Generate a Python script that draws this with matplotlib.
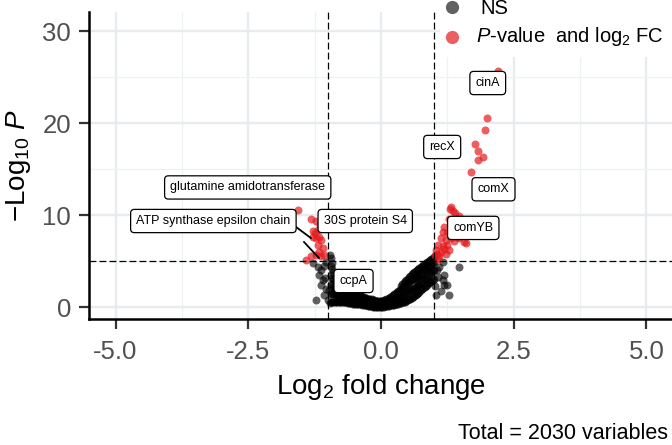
import matplotlib
matplotlib.use("Agg")
from matplotlib import pyplot as plt
from matplotlib.lines import Line2D
from matplotlib.patches import Rectangle
from matplotlib.ticker import MultipleLocator

plt.rcParams['font.family'] = ['Liberation Sans', 'DejaVu Sans']
plt.rcParams['mathtext.fontset'] = 'custom'
plt.rcParams['mathtext.rm'] = 'Liberation Sans'
plt.rcParams['mathtext.it'] = 'Liberation Sans:italic'
plt.rcParams['axes.unicode_minus'] = False

# significant genes (P-value and log2 FC)
sig_x = [2.21, 1.99, 1.95, 1.77, 1.82, 1.92, 1.82, 1.69,
         1.30, 1.32, 1.35, 1.40, 1.47, 1.28, 1.34,
         1.19, 1.16, 1.25, 1.13, 1.22, 1.32, 1.44, 1.38, 1.60, 1.57, 1.47,
         1.07, 1.16, 1.25, 1.03, 1.13, 1.22, 1.01, 1.10, 1.18, 1.29, 1.08, 1.05,
         -1.57, -1.32, -1.22, -1.25, -1.19, -1.16, -1.22, -1.28, -1.13, -1.19,
         -1.10, -1.16, -1.07, -1.32, -1.22, -1.13, -1.41, -1.28, -1.15]
sig_y = [25.7, 20.6, 19.2, 17.7, 17.0, 16.3, 16.0, 14.7,
         10.7, 10.9, 10.4, 10.2, 9.9, 9.6, 9.3,
         8.7, 8.2, 8.0, 7.5, 7.3, 7.5, 7.6, 7.2, 7.0, 7.1, 7.5,
         6.7, 6.6, 6.7, 6.2, 6.0, 5.8, 5.65, 5.5, 6.3, 6.2, 5.2, 5.8,
         10.5, 9.6, 9.3, 8.0, 8.4, 7.6, 7.5, 7.6, 7.3, 6.7,
         6.4, 6.0, 5.65, 5.5, 5.65, 5.5, 5.1, 8.3, 8.9]

# NS genes outside the dense band
ns_x = [-0.97, -0.94, -1.03, -1.28, -1.19, -1.13, -1.16, -1.10, -1.13, -1.03,
        -1.22, -1.00, -1.07, -0.97, -1.05, -0.98, -1.08, -0.92,
        1.47, 1.16, 1.19, 1.19, 1.28, 1.13, 1.10, 1.03, 1.16, 1.25, 1.05, 1.08, 1.02]
ns_y = [5.65, 5.3, 4.9, 4.75, 4.4, 4.0, 3.5, 2.9, 2.4, 2.0,
        0.76, 0.76, 1.3, 0.4, 3.2, 1.8, 4.5, 4.8,
        4.4, 4.9, 3.5, 2.4, 1.3, 1.7, 4.4, 1.3, 2.9, 2.4, 4.0, 3.3, 2.3]

# dense NS band: log2 FC columns and the -log10 P values seen in each
band_fc = [-0.95, -0.9, -0.85, -0.8, -0.75, -0.7, -0.65, -0.6, -0.55, -0.5,
           -0.45, -0.4, -0.35, -0.3, -0.25, -0.2, -0.15, -0.1, -0.05, 0.0,
           0.05, 0.1, 0.15, 0.2, 0.25, 0.3, 0.35, 0.4, 0.45, 0.5,
           0.55, 0.6, 0.65, 0.7, 0.75, 0.8, 0.85, 0.9, 0.95, 1.0]
band_p = [[0.5, 1.5, 2.5, 3.5, 4.5], [0.6, 1.4, 2.2, 3.0, 3.8], [0.6, 1.3, 2.0, 2.7],
          [0.6, 1.2, 1.8, 2.4], [0.55, 1.1, 1.7, 2.2], [0.5, 1.05, 1.6, 2.0],
          [0.5, 1.0, 1.5, 1.9], [0.45, 0.95, 1.45, 1.8], [0.4, 0.9, 1.4, 1.7],
          [0.35, 0.85, 1.3, 1.6], [0.3, 0.8, 1.25, 1.5], [0.3, 0.75, 1.2, 1.4],
          [0.25, 0.7, 1.1], [0.2, 0.6, 1.0], [0.15, 0.5, 0.9], [0.1, 0.45, 0.85],
          [0.05, 0.4, 0.8], [0.05, 0.35, 0.7], [0.0, 0.3, 0.65], [0.0, 0.3, 0.65],
          [0.05, 0.35, 0.75], [0.1, 0.4, 0.85], [0.15, 0.5, 1.0], [0.2, 0.6, 1.2],
          [0.25, 0.75, 1.4], [0.3, 0.9, 1.6], [0.4, 1.05, 1.9], [0.5, 1.2, 2.1, 2.5],
          [0.6, 1.4, 2.3, 2.8], [0.75, 1.6, 2.5, 3.1], [0.9, 1.8, 2.8, 3.4],
          [1.1, 2.0, 3.0, 3.7], [1.3, 2.2, 3.2, 3.9], [1.5, 2.4, 3.4, 4.1],
          [1.8, 2.7, 3.6, 4.4], [2.1, 3.0, 3.9, 4.6], [2.3, 3.2, 4.1, 4.8],
          [2.6, 3.5, 4.4, 5.0], [2.8, 3.8, 4.6, 5.2], [3.0, 4.0, 4.9, 5.4]]
# second set of columns in between the first
band_fc2 = [-0.925, -0.875, -0.825, -0.775, -0.725, -0.675, -0.625, -0.575, -0.525,
            -0.475, -0.425, -0.375, -0.325, -0.275, -0.225, -0.175, -0.125, -0.075,
            -0.025, 0.025, 0.075, 0.125, 0.175, 0.225, 0.275, 0.325, 0.375, 0.425,
            0.475, 0.525, 0.575, 0.625, 0.675, 0.725, 0.775, 0.825, 0.875, 0.925, 0.975]
band_p2 = [[0.55, 1.45, 2.35, 3.2, 4.1], [0.6, 1.35, 2.1, 2.85], [0.6, 1.25, 1.9, 2.55],
           [0.58, 1.15, 1.75, 2.3], [0.52, 1.08, 1.65, 2.1], [0.5, 1.02, 1.55, 1.95],
           [0.48, 0.98, 1.48, 1.85], [0.42, 0.92, 1.42, 1.75], [0.38, 0.88, 1.35, 1.65],
           [0.32, 0.82, 1.28, 1.55], [0.3, 0.78, 1.22, 1.45], [0.28, 0.72, 1.15],
           [0.22, 0.65, 1.05], [0.18, 0.55, 0.95], [0.12, 0.48, 0.88], [0.08, 0.42, 0.82],
           [0.05, 0.38, 0.75], [0.02, 0.32, 0.68], [0.0, 0.3, 0.65], [0.02, 0.32, 0.7],
           [0.08, 0.38, 0.8], [0.12, 0.45, 0.92], [0.18, 0.55, 1.1], [0.22, 0.68, 1.3],
           [0.28, 0.82, 1.5], [0.35, 0.98, 1.75], [0.45, 1.12, 2.0, 2.3],
           [0.55, 1.3, 2.2, 2.65], [0.68, 1.5, 2.4, 2.95], [0.82, 1.7, 2.65, 3.25],
           [1.0, 1.9, 2.9, 3.55], [1.2, 2.1, 3.1, 3.8], [1.4, 2.3, 3.3, 4.0],
           [1.65, 2.55, 3.5, 4.25], [1.95, 2.85, 3.75, 4.5], [2.2, 3.1, 4.0, 4.7],
           [2.45, 3.35, 4.25, 4.9], [2.7, 3.65, 4.5, 5.1], [2.9, 3.9, 4.75, 5.3]]

# gene labels (left edge of text, centre height)
gene_names = ['glutamine amidotransferase', 'ATP synthase epsilon chain',
              '30S protein S4', 'ccpA', 'recX', 'cinA', 'comX', 'comYB']
gene_lx = [-4.00, -4.64, -1.11, -0.81, 0.88, 1.75, 1.79, 1.33]
gene_ly = [13.0, 9.35, 9.35, 2.83, 17.4, 24.35, 12.8, 8.6]

# repel segments
seg_x0 = [-1.60, -1.45]
seg_y0 = [8.70, 7.07]
seg_x1 = [-1.32, -1.17]
seg_y1 = [7.50, 5.33]

fc_cut = 1.0
p_cut = 5.0
n_total = 2030

for fcs, pss in [(band_fc, band_p), (band_fc2, band_p2)]:
    for fc, ps in zip(fcs, pss):
        for p in ps:
            ns_x.append(fc)
            ns_y.append(p)

ns_col = 'black'
sig_col = '#E41A1C'

fig = plt.figure(figsize=(6.72, 4.45), dpi=100)
ax = fig.add_axes([89/672, 126/445, 584/672, 307/445])

ax.scatter(ns_x, ns_y, s=33, color=ns_col, alpha=0.62, linewidths=0, zorder=3)
ax.scatter(sig_x, sig_y, s=33, color=sig_col, alpha=0.7, linewidths=0, zorder=3)

dash = (0, (5.5, 2.5))
ax.axvline(-fc_cut, color='black', lw=0.9, ls=dash, zorder=4)
ax.axvline(fc_cut, color='black', lw=0.9, ls=dash, zorder=4)
ax.axhline(p_cut, color='black', lw=0.9, ls=dash, zorder=4)

for x0, y0, x1, y1 in zip(seg_x0, seg_y0, seg_x1, seg_y1):
    ax.plot([x0, x1], [y0, y1], color='black', lw=1.3, zorder=5)

for name, lx, ly in zip(gene_names, gene_lx, gene_ly):
    ax.text(lx + 0.03, ly, name, fontsize=9, ha='left', va='center', zorder=6,
            bbox=dict(boxstyle='round,pad=0.45,rounding_size=0.3', fc='white',
                      ec='black', lw=0.9))

ax.set_xlim(-5.5, 5.5)
ax.set_ylim(-1.3, 32.07)
ax.set_xticks([-5.0, -2.5, 0.0, 2.5, 5.0])
ax.set_xticklabels(['-5.0', '-2.5', '0.0', '2.5', '5.0'])
ax.set_yticks([0, 10, 20, 30])
ax.xaxis.set_minor_locator(MultipleLocator(1.25))
ax.yaxis.set_minor_locator(MultipleLocator(5))
ax.grid(True, which='major', color='#e8ecee', lw=1.7, zorder=0)
ax.grid(True, which='minor', color='#eff2f3', lw=0.9, zorder=0)
ax.set_axisbelow(True)
ax.tick_params(which='minor', length=0)
ax.tick_params(which='major', length=7, width=1.6, color='#333333',
               labelsize=18.5, labelcolor='#505050')
ax.tick_params(axis='x', pad=8)
ax.tick_params(axis='y', pad=6)

for side in ['top', 'right']:
    ax.spines[side].set_visible(False)
for side in ['left', 'bottom']:
    ax.spines[side].set_linewidth(1.8)
    ax.spines[side].set_color('black')

ax.set_xlabel('Log$_2$ fold change', fontsize=20)
ax.xaxis.set_label_coords(0.5, -0.173)
ax.set_ylabel('\u2212Log$_{10}$ $\\mathit{P}$', fontsize=20)
ax.yaxis.set_label_coords(-0.096, 0.5)

# legend drawn on a white patch at the top right
fig.patches.append(Rectangle((440/672, 1 - 57/445), 232/672, 57/445,
                             transform=fig.transFigure, fc='white', ec='none', zorder=1))
fig.add_artist(Line2D([452/672], [1 - 7/445], marker='o', ms=9.5, color=ns_col,
                      alpha=0.62, mew=0, ls='none', transform=fig.transFigure, zorder=2))
fig.add_artist(Line2D([452/672], [1 - 37/445], marker='o', ms=9.5, color=sig_col,
                      alpha=0.7, mew=0, ls='none', transform=fig.transFigure, zorder=2))
fig.text(480/672, 1 - 9/445, 'NS', fontsize=14.5, va='center', ha='left')
fig.text(476/672, 1 - 37/445, '$\\mathit{P}$-value  and log$_2$ FC',
         fontsize=14.5, va='center', ha='left')

fig.text(668/672, 6/445, 'Total = %d variables' % n_total, fontsize=15.5,
         ha='right', va='baseline')

fig.savefig('out.png', dpi=100)
